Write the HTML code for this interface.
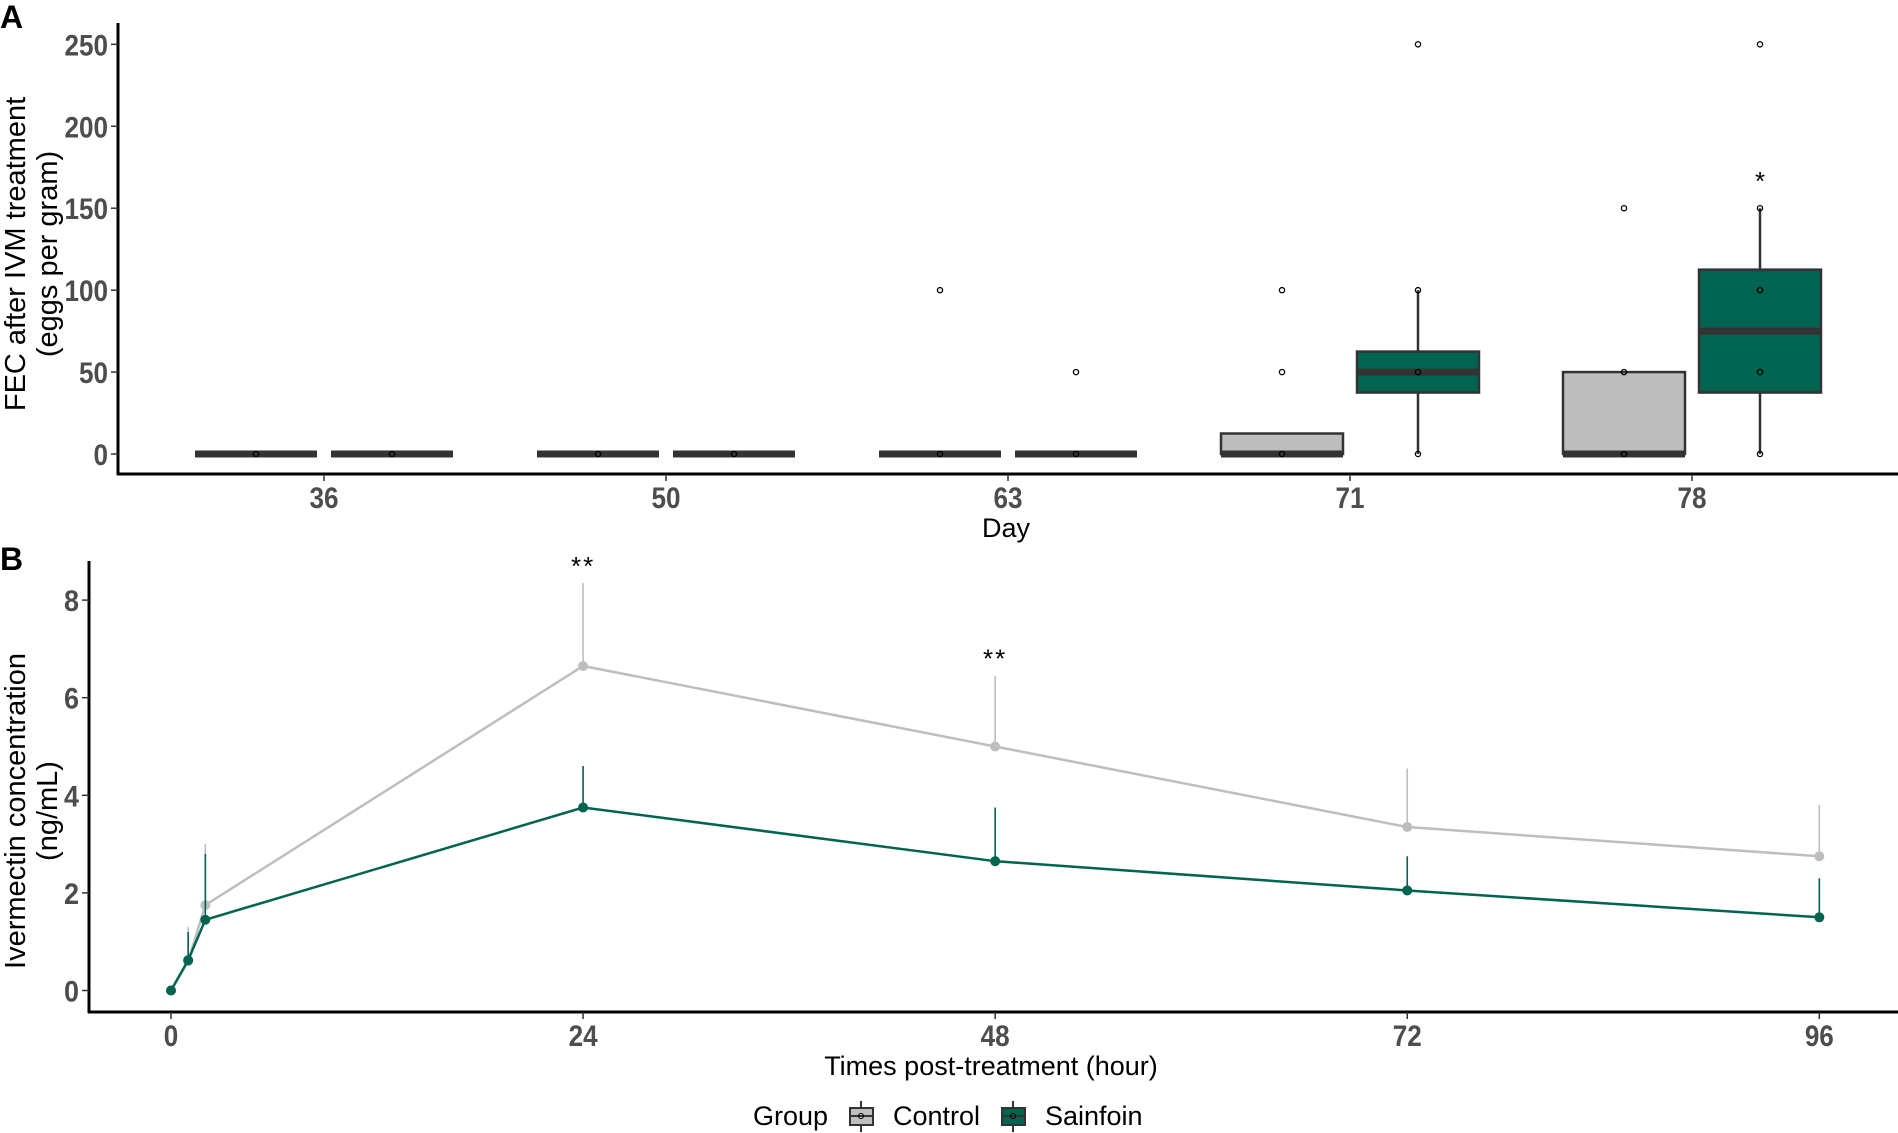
<!DOCTYPE html>
<html><head><meta charset="utf-8"><style>
html,body{margin:0;padding:0;background:#fff;}
svg{display:block;font-family:"Liberation Sans",sans-serif;}
.tick{font-weight:bold;fill:#4d4d4d;font-size:30px;}
.ttl{fill:#000;font-size:27px;}
</style></head><body>
<svg id="fig" width="1898" height="1133" viewBox="0 0 1898 1133" xmlns="http://www.w3.org/2000/svg">
<text x="0" y="28" font-size="32" font-weight="bold">A</text>
<text x="0" y="570" font-size="32" font-weight="bold">B</text>
<g id="pa"></g>
<g id="pb"></g>
<g id="legend">
 <text x="753" y="1125" class="ttl">Group</text>
 <g>
  <line x1="861" y1="1101" x2="861" y2="1132" stroke="#333" stroke-width="2"/>
  <rect x="850" y="1108" width="23" height="17" fill="#bebebe" stroke="#333" stroke-width="2"/>
  <line x1="850" y1="1116" x2="873" y2="1116" stroke="#333" stroke-width="2"/>
  <circle cx="861" cy="1116" r="2.5" fill="none" stroke="#000"/>
  <text x="893" y="1125" class="ttl">Control</text>
 </g>
 <g>
  <line x1="1013" y1="1101" x2="1013" y2="1132" stroke="#333" stroke-width="2"/>
  <rect x="1002" y="1108" width="23" height="17" fill="#006450" stroke="#333" stroke-width="2"/>
  <line x1="1002" y1="1116" x2="1025" y2="1116" stroke="#333" stroke-width="2"/>
  <circle cx="1013" cy="1116" r="2.5" fill="none" stroke="#000"/>
  <text x="1045" y="1125" class="ttl">Sainfoin</text>
 </g>
</g>
</svg>
<script>
// ---------- Panel A data ----------
const days = ["36","50","63","71","78"];
const groups = ["Control","Sainfoin"];
const ctrlStats = [[0,0,0,0,0],[0,0,0,0,0],[0,0,0,0,0],[0,0,0,12.5,12.5],[0,0,0,50,50]]; // lo,q1,med,q3,hi
const sainStats = [[0,0,0,0,0],[0,0,0,0,0],[0,0,0,0,0],[0,37.5,50,62.5,100],[0,37.5,75,112.5,150]];
const ctrlPoints = [[0],[0],[0,100],[0,50,100],[0,50,150]];
const sainPoints = [[0],[0],[0,50],[0,50,100,250],[0,50,100,150,250]];
const aTicks = [0,50,100,150,200,250];
const aStars = ["","","","","*"];
// ---------- Panel B data ----------
const hours = [0,1,2,24,48,72,96];
const ctrlMean = [0,0.6,1.75,6.65,5.0,3.35,2.75];
const ctrlUpper = [0,1.3,3.0,8.35,6.45,4.55,3.8];
const sainMean = [0,0.62,1.45,3.75,2.65,2.05,1.5];
const sainUpper = [0,1.2,2.8,4.6,3.75,2.75,2.3];
const bTicksX = [0,24,48,72,96];
const bTicksY = [0,2,4,6,8];
const bStarHours = [24,48];
const bStarLabels = ["**","**"];

const NS="http://www.w3.org/2000/svg";
function mk(parent,tag,attrs,txt){const e=document.createElementNS(NS,tag);for(const k in attrs)e.setAttribute(k,attrs[k]);if(txt!==undefined)e.textContent=txt;parent.appendChild(e);return e;}

// Panel A
const pa=document.getElementById('pa');
const ay=v=>454-v*1.6386;
const ax=i=>324+i*342;
const fills={Control:"#bebebe",Sainfoin:"#006450"};
mk(pa,'line',{x1:118,y1:23,x2:118,y2:475,stroke:'#000','stroke-width':3});
mk(pa,'line',{x1:117,y1:474,x2:1898,y2:474,stroke:'#000','stroke-width':3});
aTicks.forEach(t=>{
  mk(pa,'line',{x1:111,y1:ay(t),x2:118,y2:ay(t),stroke:'#333','stroke-width':1.5});
  const tx=mk(pa,'text',{x:108,y:ay(t)+11,'text-anchor':'end',class:'tick',textLength:String(t).length*14.5,lengthAdjust:'spacingAndGlyphs'},t);
  
  
});
days.forEach((d,i)=>{
  mk(pa,'line',{x1:ax(i),y1:474,x2:ax(i),y2:481,stroke:'#333','stroke-width':1.5});
  const tx=mk(pa,'text',{x:ax(i),y:508,'text-anchor':'middle',class:'tick',textLength:29,lengthAdjust:'spacingAndGlyphs'},d);
  
  
  [[ctrlStats,ctrlPoints,-68,'Control'],[sainStats,sainPoints,68,'Sainfoin']].forEach(([st,pts,off,g])=>{
    const cx=ax(i)+off, s=st[i], w=122;
    const grp=mk(pa,'g',{});
    
    
    mk(grp,'line',{x1:cx,y1:ay(s[0]),x2:cx,y2:ay(s[4]),stroke:'#333','stroke-width':2.5});
    const h=Math.max(ay(s[1])-ay(s[3]),0);
    mk(grp,'rect',{x:cx-w/2,y:ay(s[3]),width:w,height:h,fill:fills[g],stroke:'#333','stroke-width':2.5});
    mk(grp,'line',{x1:cx-w/2,y1:ay(s[2]),x2:cx+w/2,y2:ay(s[2]),stroke:'#333','stroke-width':7});
    pts[i].forEach(v=>{
      const c=mk(grp,'circle',{cx:cx,cy:ay(v),r:2.6,fill:'none',stroke:'#000','stroke-width':1.3});
      
      
    });
  });
  if(aStars[i]){
    const st=mk(pa,'text',{x:ax(i)+68,y:ay(sainStats[i][4])-18,'text-anchor':'middle','font-size':26},aStars[i]);
    
    
  }
});
const ayt=mk(pa,'text',{transform:'translate(25,254) rotate(-90)','text-anchor':'middle','font-size':29},'FEC after IVM treatment');


const ayt2=mk(pa,'text',{transform:'translate(57,254) rotate(-90)','text-anchor':'middle','font-size':29},'(eggs per gram)');


const axt=mk(pa,'text',{x:1006,y:537,'text-anchor':'middle',class:'ttl'},'Day');



// Panel B
const pb=document.getElementById('pb');
const by=v=>990.5-v*48.8;
const bx=h=>171+h*17.17;
mk(pb,'line',{x1:89,y1:561,x2:89,y2:1013,stroke:'#000','stroke-width':3});
mk(pb,'line',{x1:88,y1:1012,x2:1898,y2:1012,stroke:'#000','stroke-width':3});
bTicksY.forEach(t=>{
  mk(pb,'line',{x1:82,y1:by(t),x2:89,y2:by(t),stroke:'#333','stroke-width':1.5});
  const tx=mk(pb,'text',{x:79,y:by(t)+11,'text-anchor':'end',class:'tick',textLength:15,lengthAdjust:'spacingAndGlyphs'},t);
  
  
});
bTicksX.forEach(t=>{
  mk(pb,'line',{x1:bx(t),y1:1012,x2:bx(t),y2:1019,stroke:'#333','stroke-width':1.5});
  const tx=mk(pb,'text',{x:bx(t),y:1046,'text-anchor':'middle',class:'tick',textLength:String(t).length*14.5,lengthAdjust:'spacingAndGlyphs'},t);
  
  
});
[[ctrlMean,ctrlUpper,'#bebebe','control'],[sainMean,sainUpper,'#006450','sainfoin']].forEach(([m,u,col,n])=>{
  const grp=mk(pb,'g',{});
  
  
  hours.forEach((h,i)=>{
    const e=mk(grp,'line',{x1:bx(h),y1:by(m[i]),x2:bx(h),y2:by(u[i]),stroke:col,'stroke-width':1.6});
    
    
  });
  const pl=mk(grp,'polyline',{points:hours.map((h,i)=>bx(h)+','+by(m[i])).join(' '),fill:'none',stroke:col,'stroke-width':2.5});
  
  
  hours.forEach((h,i)=>{
    const c=mk(grp,'circle',{cx:bx(h),cy:by(m[i]),r:5,fill:col});
    
    
  });
});
bStarHours.forEach((h,i)=>{
  const idx=hours.indexOf(h);
  const st=mk(pb,'text',{x:bx(h),y:by(ctrlUpper[idx])-8,'text-anchor':'middle','font-size':26,'letter-spacing':'2'},bStarLabels[i]);
  
  
});
const byt=mk(pb,'text',{transform:'translate(25,811) rotate(-90)','text-anchor':'middle','font-size':29},'Ivermectin concentration');


const byt2=mk(pb,'text',{transform:'translate(57,811) rotate(-90)','text-anchor':'middle','font-size':29},'(ng/mL)');


const bxt=mk(pb,'text',{x:991,y:1075,'text-anchor':'middle',class:'ttl'},'Times post-treatment (hour)');


</script>
</body></html>
